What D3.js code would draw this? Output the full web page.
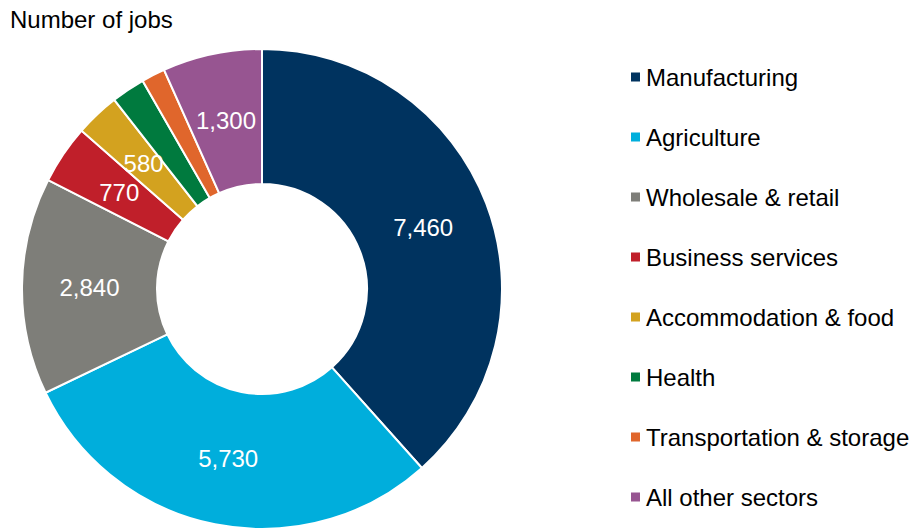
<!DOCTYPE html>
<html>
<head>
<meta charset="utf-8">
<script src="https://cdn.jsdelivr.net/npm/d3@7"></script>
<style>
  html, body { margin: 0; padding: 0; background: #fff; }
  svg { display: block; font-family: "Liberation Sans", Arial, sans-serif; }
</style>
</head>
<body>
<svg id="chart" width="917" height="529"></svg>
<script>
// Jobs by sector
const sectors = ["Manufacturing", "Agriculture", "Wholesale & retail", "Business services",
                 "Accommodation & food", "Health", "Transportation & storage", "All other sectors"];
const jobs = [7460, 5730, 2840, 770, 580, 440, 310, 1300];
// Slices whose value is printed on the ring
const labelled = [true, true, true, true, true, false, false, true];
const colors = ["#00335f", "#00aedc", "#7e7e79", "#c01f2a", "#d3a21f", "#007a3e", "#e0662c", "#975591"];

const data = sectors.map((s, i) => ({ sector: s, value: jobs[i], show: labelled[i] }));

const svg = d3.select("#chart");
const cx = 262, cy = 289, rOuter = 240, rInner = 105;
const fontSize = 24;

svg.append("text")
  .attr("x", 10).attr("y", 28)
  .attr("font-size", fontSize).attr("fill", "#000")
  .text("Number of jobs");

const pie = d3.pie().value(d => d.value).sort(null);
const arc = d3.arc().innerRadius(rInner).outerRadius(rOuter);
const labelArc = d3.arc().innerRadius((rInner + rOuter) / 2).outerRadius((rInner + rOuter) / 2);

const color = d3.scaleOrdinal().domain(sectors).range(colors);

const g = svg.append("g").attr("transform", `translate(${cx},${cy})`);
const arcs = pie(data);

g.selectAll("path.slice").data(arcs).join("path")
  .attr("class", "slice")
  .attr("d", arc)
  .attr("fill", d => color(d.data.sector))
  .attr("stroke", "#fff")
  .attr("stroke-width", 2)
  .attr("stroke-linejoin", "miter");

const fmt = d3.format(",");
g.selectAll("text.val").data(arcs.filter(d => d.data.show)).join("text")
  .attr("class", "val")
  .attr("transform", d => `translate(${labelArc.centroid(d)})`)
  .attr("text-anchor", "middle")
  .attr("dy", "0.36em")
  .attr("font-size", fontSize)
  .attr("fill", "#fff")
  .text(d => fmt(d.data.value));

// Legend
const legendY = d3.scalePoint().domain(sectors).range([77, 497]);
const lg = svg.append("g");
const item = lg.selectAll("g").data(sectors).join("g")
  .attr("transform", d => `translate(631,${legendY(d)})`);
item.append("rect")
  .attr("x", 0).attr("y", -4.5).attr("width", 9).attr("height", 9)
  .attr("fill", d => color(d));
item.append("text")
  .attr("x", 15).attr("dy", "0.36em")
  .attr("font-size", fontSize).attr("fill", "#000")
  .text(d => d);
</script>
</body>
</html>
